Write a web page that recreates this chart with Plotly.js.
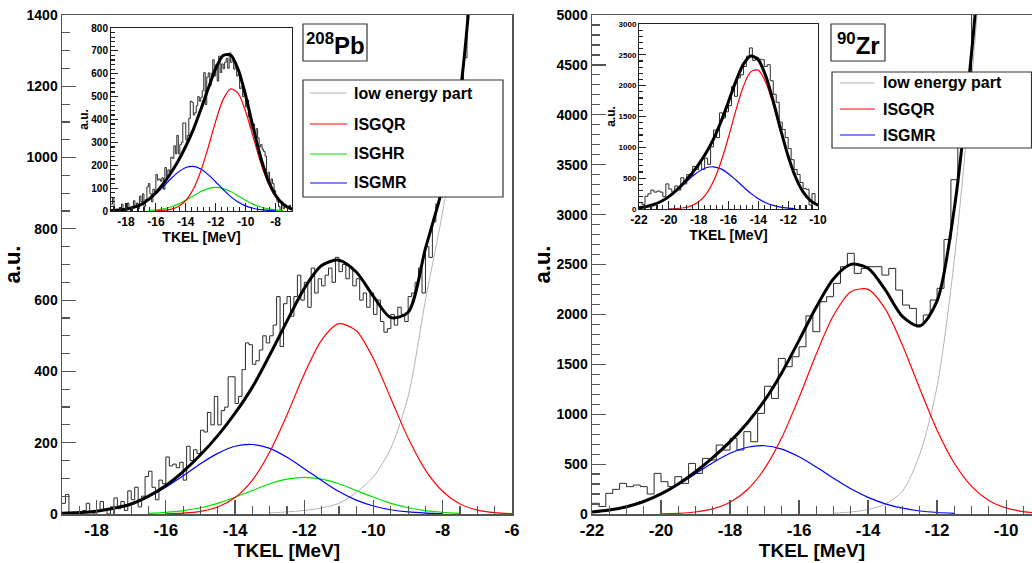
<!DOCTYPE html>
<html>
<head>
<meta charset="utf-8">
<script src="https://cdn.plot.ly/plotly-3.0.1.min.js"></script>
<style>html,body{margin:0;padding:0;background:#fff}#chart{width:1032px;height:563px}</style>
</head>
<body>
<div id="chart"></div>
<script>
// ---------------- DATA ----------------
// 208Pb main spectrum (histogram, bins of 0.1 MeV starting at -19.0)
const pbHistStart = -19.0, pbHistBin = 0.1;
const pbHist = [
  30,55,0,5,0,0,10,30,5,0,
  10,35,10,0,20,45,15,35,10,65,
  40,75,20,50,105,120,75,40,95,85,
  160,135,140,130,145,95,190,150,180,170,
  235,230,285,250,330,250,290,300,385,385,
  310,330,405,480,475,420,430,460,500,480,
  500,530,610,470,590,610,555,610,670,600,
  650,580,690,620,660,640,670,690,650,720,
  680,700,660,690,640,660,600,620,580,620,
  560,600,540,510,520,560,530,580,560,540,
  610,620,650,690,620,750,720,820,870,890,
  920,980,1010,1080,1120,1180,1280,1420,1560
];
// 208Pb inset spectrum (low energy part removed), bins of 0.1 MeV from -19.0
const pbInsetHist = [
  30,55,0,5,0,0,10,30,5,0,
  10,35,10,0,20,45,15,35,10,65,
  40,75,20,50,105,120,75,40,95,85,
  160,135,140,130,145,95,190,150,180,170,
  235,230,285,250,330,250,290,300,385,385,
  310,330,405,480,475,420,430,460,500,480,
  497,526,605,465,585,604,548,602,661,590,
  640,568,677,605,643,622,650,667,624,691,
  650,665,620,645,590,600,535,545,500,530,
  455,485,410,365,360,380,330,360,320,280,
  290,270,260,240,150,170,110,140,120,90,
  60,40,20,0,40,10,30,20,15,25,
  10
];
// 208Pb fit components, sampled every 0.5 MeV
const curveStep = 0.5;
const pbQRStart = -16;   const pbQR  = [0.7,2.4,7.3,19.6,46,95,174,278,393,488,534,514,435,324,213,123,63,28,11,3.8,1.2];
const pbHRStart = -16.5; const pbHR  = [1.9,4.5,9.3,17.6,30,47,66,85,98,103,98,85,66,47,30,17.6,9.3,4.5,1.9];
const pbMRStart = -19;   const pbMR  = [1.5,3.6,7.7,15.5,28,48,75,107,141,170,190,195,184,159,127,94,63,39,22.5,11.9,5.7,2.6,1.0];
const pbLowStart = -13;  const pbLow = [3,6,10,17,30,60,105,185,330,600,850,1160,1700];
const pbFitStart = -19;  const pbFit = [2,4,8,16,28,50,80,119,166,220,283,356,446,541,633,697,712,679,610,551,566,745,919,1180,1711];
const pbInsetFitStart = -19; const pbInsetFit = [2,4,8,16,28,50,80,119,166,220,283,356,443,535,623,680,682,619,505,366,236,135,69,30,11,4,1];

// 90Zr main spectrum (histogram, bins of 0.2 MeV starting at -22.0)
const zrHistStart = -22.0, zrHistBin = 0.2;
const zrHist = [
  107,75,207,247,307,274,290,274,200,407,
  324,274,374,307,507,407,557,541,691,641,
  758,641,825,724,1008,1280,1158,1559,1476,1576,
  1676,1985,1827,2127,2177,2311,2478,2612,2411,2461,
  2478,2478,2394,2461,2244,2094,2060,1893,1994,2144,
  2261,2750,3350,3710,4320,5200
];
const zrInsetHist = [
  107,75,207,247,307,274,290,274,200,407,
  324,274,374,307,507,407,557,541,691,641,
  758,641,825,724,1008,1280,1158,1559,1476,1576,
  1676,1985,1827,2127,2177,2311,2478,2612,2411,2461,
  2430,2420,2310,2340,2080,1860,1730,1410,1290,1160,
  980,800,640,560,430,330,320,65,250,80
];
const zrQRStart = -20;  const zrQR  = [2.3,7,20,51,117,243,454,766,1167,1604,1991,2228,2251,2053,1689,1254,840,508,277,136,61,24,9];
const zrMRStart = -22;  const zrMR  = [20,40,73,125,199,294,403,513,608,669,684,650,573,470,358,253,167,102,58,30,15,7];
const zrLowStart = -15; const zrLow = [8,20,45,100,230,600,1280,2550,4350,6500];
const zrFitStart = -22; const zrFit = [20,40,73,125,201,301,423,564,725,912,1138,1416,1740,2074,2357,2501,2463,2245,1977,1884,2135,3065,4627,6636];
const zrInsetFitStart = -22; const zrInsetFit = [20,40,73,125,201,301,423,564,725,912,1138,1416,1740,2074,2349,2481,2418,2155,1747,1284,855,515,277,136,61,24];

// tick labels
const pbTicks = [-18,-16,-14,-12,-10,-8,-6];
const pbTickText = ['-18','-16','-14','-12','-10','-8','-6'];
const pbInsetTicks = [-18,-16,-14,-12,-10,-8];
const pbInsetTickText = ['-18','-16','-14','-12','-10','-8'];
const zrTicks = [-22,-20,-18,-16,-14,-12,-10];
const zrTickText = ['-22','-20','-18','-16','-14','-12','-10'];

const pbLegendNames = ['low energy part','ISGQR','ISGHR','ISGMR'];
const zrLegendNames = ['low energy part','ISGQR','ISGMR'];

// ---------------- BUILD ----------------
const W = 1032, H = 563;
const px = x => x / W;
const py = y => 1 - y / H;
const FONT = 'Liberation Sans, Arial, Helvetica, sans-serif';

function histTrace(start, bin, vals, xa, ya) {
  const x = [], y = [];
  for (let i = 0; i < vals.length; i++) { x.push(start + i * bin); y.push(vals[i]); }
  x.push(start + vals.length * bin); y.push(vals[vals.length - 1]);
  return {x, y, xaxis: xa, yaxis: ya, type: 'scatter', mode: 'lines',
    line: {shape: 'hv', color: '#2a2a2a', width: 1}, hoverinfo: 'skip', showlegend: false};
}
function curve(start, vals, color, width, xa, ya, name) {
  const x = vals.map((_, i) => start + i * curveStep);
  return {x, y: vals, xaxis: xa, yaxis: ya, type: 'scatter', mode: 'lines', name,
    line: {shape: 'spline', smoothing: 0.8, color, width}, hoverinfo: 'skip', showlegend: false};
}
const C_LOW = '#b4b4b4', C_QR = '#ff0000', C_HR = '#00e000', C_MR = '#0000ff';

const traces = [
  // Pb main
  histTrace(pbHistStart, pbHistBin, pbHist, 'x', 'y'),
  curve(pbLowStart, pbLow, C_LOW, 1, 'x', 'y', 'low energy part'),
  curve(pbHRStart, pbHR, C_HR, 1.2, 'x', 'y', 'ISGHR'),
  curve(pbMRStart, pbMR, C_MR, 1.2, 'x', 'y', 'ISGMR'),
  curve(pbQRStart, pbQR, C_QR, 1.2, 'x', 'y', 'ISGQR'),
  curve(pbFitStart, pbFit, '#000', 3, 'x', 'y', 'fit'),
  // Pb inset
  histTrace(pbHistStart, pbHistBin, pbInsetHist, 'x2', 'y2'),
  curve(pbHRStart, pbHR, C_HR, 1.2, 'x2', 'y2', 'ISGHR'),
  curve(pbMRStart, pbMR, C_MR, 1.2, 'x2', 'y2', 'ISGMR'),
  curve(pbQRStart, pbQR, C_QR, 1.2, 'x2', 'y2', 'ISGQR'),
  curve(pbInsetFitStart, pbInsetFit, '#000', 3, 'x2', 'y2', 'fit'),
  // Zr main
  histTrace(zrHistStart, zrHistBin, zrHist, 'x3', 'y3'),
  curve(zrLowStart, zrLow, C_LOW, 1, 'x3', 'y3', 'low energy part'),
  curve(zrMRStart, zrMR, C_MR, 1.2, 'x3', 'y3', 'ISGMR'),
  curve(zrQRStart, zrQR, C_QR, 1.2, 'x3', 'y3', 'ISGQR'),
  curve(zrFitStart, zrFit, '#000', 3, 'x3', 'y3', 'fit'),
  // Zr inset
  histTrace(zrHistStart, zrHistBin, zrInsetHist, 'x4', 'y4'),
  curve(zrMRStart, zrMR, C_MR, 1.2, 'x4', 'y4', 'ISGMR'),
  curve(zrQRStart, zrQR, C_QR, 1.2, 'x4', 'y4', 'ISGQR'),
  curve(zrInsetFitStart, zrInsetFit, '#000', 3, 'x4', 'y4', 'fit')
];

function ax(opts) {
  return Object.assign({
    showgrid: false, zeroline: false, showline: true, mirror: true,
    linecolor: '#555', linewidth: 1.5, ticks: 'inside', tickcolor: '#555', tickwidth: 1.2,
    automargin: false, fixedrange: true
  }, opts);
}
const bold = (size) => ({family: FONT, size, color: '#000', weight: 'bold'});

const layout = {
  width: W, height: H,
  margin: {l: 0, r: 0, t: 0, b: 0},
  paper_bgcolor: '#fff', plot_bgcolor: '#fff',
  showlegend: false,
  font: {family: FONT, color: '#000'},
  xaxis: ax({domain: [px(62), px(512)], range: [-19, -6], anchor: 'y',
    tickmode: 'array', tickvals: pbTicks, ticktext: pbTickText, ticklen: 14, tickfont: bold(17),
    minor: {tickmode: 'linear', tick0: 0, dtick: 0.5, ticklen: 8, ticks: 'inside', tickcolor: '#555'},
    title: {text: 'TKEL [MeV]', font: bold(19), standoff: 1}}),
  yaxis: ax({domain: [py(514), py(15)], range: [0, 1400], anchor: 'x', dtick: 200, tick0: 0, ticklen: 14, tickfont: bold(14),
    minor: {tickmode: 'linear', tick0: 0, dtick: 50, ticklen: 8, ticks: 'inside', tickcolor: '#555'},
    title: {text: 'a.u.', font: bold(22), standoff: 0}}),
  xaxis2: ax({domain: [px(111), px(292)], range: [-19, -6.9], anchor: 'y2',
    tickmode: 'array', tickvals: pbInsetTicks, ticktext: pbInsetTickText, ticklen: 8, tickfont: bold(12),
    linecolor: '#222', linewidth: 1, tickcolor: '#222',
    minor: {tickmode: 'linear', tick0: 0, dtick: 0.4, ticklen: 4, ticks: 'inside', tickcolor: '#222'},
    title: {text: 'TKEL [MeV]', font: bold(14), standoff: 2}}),
  yaxis2: ax({domain: [py(211), py(28)], range: [0, 800], anchor: 'x2', dtick: 100, tick0: 0, ticklen: 7, tickfont: bold(10),
    linecolor: '#222', linewidth: 1, tickcolor: '#222',
    minor: {tickmode: 'linear', tick0: 0, dtick: 20, ticklen: 4, ticks: 'inside', tickcolor: '#222'},
    title: {text: 'a.u.', font: bold(12), standoff: 0}}),
  xaxis3: ax({domain: [px(592), 1], range: [-22, -9.25], anchor: 'y3',
    tickmode: 'array', tickvals: zrTicks, ticktext: zrTickText, ticklen: 14, tickfont: bold(17),
    minor: {tickmode: 'linear', tick0: 0, dtick: 0.5, ticklen: 8, ticks: 'inside', tickcolor: '#555'},
    title: {text: 'TKEL [MeV]', font: bold(19), standoff: 1}}),
  yaxis3: ax({domain: [py(514), py(15)], range: [0, 5000], anchor: 'x3', dtick: 500, tick0: 0, ticklen: 14, tickfont: bold(14),
    mirror: false,
    minor: {tickmode: 'linear', tick0: 0, dtick: 100, ticklen: 8, ticks: 'inside', tickcolor: '#555'},
    title: {text: 'a.u.', font: bold(22), standoff: 0}}),
  xaxis4: ax({domain: [px(639), px(818)], range: [-22, -10], anchor: 'y4',
    tickmode: 'array', tickvals: zrTicks, ticktext: zrTickText, ticklen: 8, tickfont: bold(12),
    linecolor: '#222', linewidth: 1, tickcolor: '#222',
    minor: {tickmode: 'linear', tick0: 0, dtick: 0.4, ticklen: 4, ticks: 'inside', tickcolor: '#222'},
    title: {text: 'TKEL [MeV]', font: bold(14), standoff: 2}}),
  yaxis4: ax({domain: [py(209), py(24)], range: [0, 3000], anchor: 'x4', dtick: 500, tick0: 0, ticklen: 7, tickfont: bold(8),
    linecolor: '#222', linewidth: 1, tickcolor: '#222',
    minor: {tickmode: 'linear', tick0: 0, dtick: 100, ticklen: 4, ticks: 'inside', tickcolor: '#222'},
    title: {text: 'a.u.', font: bold(12), standoff: 0}}),
  shapes: [],
  annotations: []
};

function box(x0, y0, x1, y1) {
  layout.shapes.push({type: 'rect', xref: 'paper', yref: 'paper', layer: 'above',
    x0: px(x0), x1: px(x1), y0: py(y1), y1: py(y0),
    fillcolor: '#fff', line: {color: '#333', width: 1.2}});
}
function legendRow(xl0, xl1, xt, yc, color, label) {
  layout.shapes.push({type: 'line', xref: 'paper', yref: 'paper', layer: 'above',
    x0: px(xl0), x1: px(xl1), y0: py(yc), y1: py(yc), line: {color, width: 1.2}});
  layout.annotations.push({xref: 'paper', yref: 'paper', x: px(xt), y: py(yc), xanchor: 'left', yanchor: 'middle',
    showarrow: false, text: label, font: bold(16)});
}
// Pb label + legend
box(303, 24, 367, 61);
layout.annotations.push({xref: 'paper', yref: 'paper', x: px(335), y: py(44), xanchor: 'center', yanchor: 'middle',
  showarrow: false, text: '<sup>208</sup>Pb', font: bold(24)});
box(303, 80, 503, 197);
const pbColors = [C_LOW, C_QR, C_HR, C_MR];
const pbRows = [93, 124, 154, 183];
pbLegendNames.forEach((n, i) => legendRow(310, 347, 352, pbRows[i], pbColors[i], n));
// Zr label + legend
box(831, 24, 885, 61);
layout.annotations.push({xref: 'paper', yref: 'paper', x: px(858), y: py(44), xanchor: 'center', yanchor: 'middle',
  showarrow: false, text: '<sup>90</sup>Zr', font: bold(24)});
box(832, 72, 1031.5, 148);
const zrColors = [C_LOW, C_QR, C_MR];
const zrRows = [83, 109, 135];
zrLegendNames.forEach((n, i) => legendRow(840, 875, 881, zrRows[i], zrColors[i], n));

Plotly.newPlot('chart', traces, layout, {staticPlot: true, displayModeBar: false});
</script>
</body>
</html>
